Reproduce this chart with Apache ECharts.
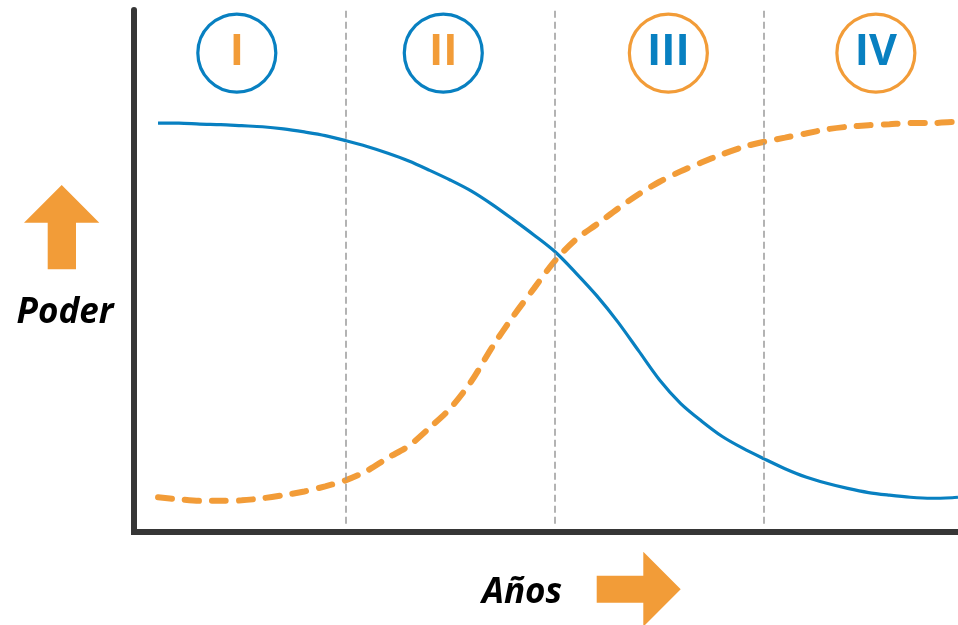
<!DOCTYPE html>
<html><head><meta charset="utf-8">
<script src="https://cdn.jsdelivr.net/npm/echarts@6/dist/echarts.min.js"></script>
<style>html,body{margin:0;padding:0;background:#fff}#c{width:958px;height:625px}</style>
</head><body><div id="c"></div>
<script>
// x positions (years, arbitrary units; 10 per phase)
const years = [1,2,3,4,5,6,7,8,9,10,11,12,13,14,15,16,17,18,19,20,21,22,23,24,25,26,27,28,29,30,31,32,33,34,35,36,37,38,39,39.28];
// descending (blue) curve
const serieAzul = [78.2,78.2,78.0,77.9,77.7,77.5,77.1,76.5,75.8,74.8,73.7,72.4,70.9,69.1,67.2,65.1,62.5,59.6,56.6,53.4,49.3,44.9,39.9,34.3,28.7,24.2,20.8,17.8,15.5,13.5,11.6,10.0,8.8,7.8,7.0,6.5,6.1,5.9,6.0,6.1];
// ascending (orange, dashed) curve
const serieNaranja = [6.1,5.7,5.4,5.4,5.5,5.9,6.5,7.2,8.2,9.4,11.2,13.7,16.0,19.5,23.3,28.5,35.1,41.0,46.4,51.7,55.8,58.7,61.7,64.5,66.9,68.9,70.6,72.2,73.6,74.6,75.4,76.2,77.0,77.5,77.8,78.0,78.2,78.2,78.4,78.4];
const fases = ['I','II','III','IV'];
const faseX = [4.77,14.65,25.42,35.35];
const faseY = 91.7;
const divisiones = [10,20,30];

const AZUL = '#0880C1';
const NARANJA = '#F29C38';

const chart = echarts.init(document.getElementById('c'), null, {renderer:'canvas'});
chart.setOption({
  animation:false,
  backgroundColor:'#fff',
  grid:{left:134, right:0, top:10, bottom:93},
  xAxis:{type:'value', min:-0.15, max:39.28,
    axisLine:{show:true, onZero:false, lineStyle:{color:'#363636', width:6, cap:'square'}},
    axisTick:{show:false}, axisLabel:{show:false}, splitLine:{show:false}},
  yAxis:{type:'value', min:-0.6, max:100,
    axisLine:{show:true, onZero:false, lineStyle:{color:'#363636', width:6}},
    axisTick:{show:false}, axisLabel:{show:false}, splitLine:{show:false}},
  series:[
    {name:'Curva descendente', type:'line', data:years.map((x,i)=>[x,serieAzul[i]]),
     smooth:0.3, showSymbol:false, symbol:'none',
     lineStyle:{color:AZUL, width:3.2},
     markLine:{silent:true, symbol:['none','none'], label:{show:false},
       lineStyle:{color:'#9a9a9a', width:1.5, type:[7,4]},
       data: divisiones.map(d=>[{coord:[d,1.0]},{coord:[d,100]}])},
     z:3},
    {name:'Curva ascendente', type:'line', data:years.map((x,i)=>[x,serieNaranja[i]]),
     smooth:0.3, showSymbol:false, symbol:'none',
     lineStyle:{color:NARANJA, width:6, type:[14,13], cap:'round'},
     z:2},
    {name:'Fases', type:'scatter', symbol:'circle', symbolSize:78,
     data: fases.map((f,i)=>({value:[faseX[i],faseY], name:f,
        itemStyle:{color:'rgba(255,255,255,0)', borderColor: i<2?AZUL:NARANJA, borderWidth:3.2, opacity:1},
        label:{color: i<2?NARANJA:AZUL}})),
     itemStyle:{opacity:1},
     label:{show:true, position:'inside', formatter:p=>p.name,
       fontFamily:'Open Sans', fontWeight:'bold', fontSize:43},
     z:4}
  ],
  graphic:[
    {type:'polygon', shape:{points:[[61.7,185],[99.3,222.7],[76,222.7],[76,269.3],[47.7,269.3],[47.7,222.7],[24,222.7]]},
     style:{fill:NARANJA}},
    {type:'polygon', shape:{points:[[680.7,589.2],[643.3,551.7],[643.3,575.7],[596.7,575.7],[596.7,602.7],[643.3,602.7],[643.3,626.7]]},
     style:{fill:NARANJA}},
    {type:'text', x:65, y:313.5, style:{text:'Poder', fill:'#000', align:'center', verticalAlign:'middle',
      font:'italic bold 35px "Open Sans"'}},
    {type:'text', x:522, y:593, style:{text:'Años', fill:'#000', align:'center', verticalAlign:'middle',
      font:'italic bold 35px "Open Sans"'}}
  ]
});
</script></body></html>
